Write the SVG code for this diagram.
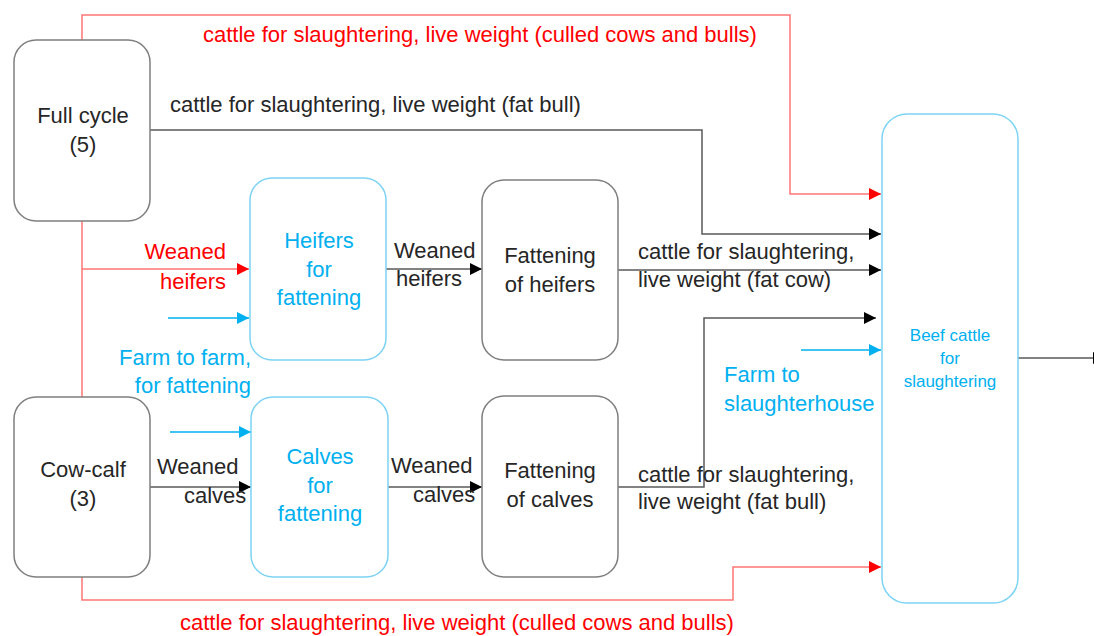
<svg xmlns="http://www.w3.org/2000/svg" width="1094" height="636" viewBox="0 0 1094 636">
  <defs>
    <marker id="arrow-black" markerUnits="userSpaceOnUse" markerWidth="12" markerHeight="12" refX="12" refY="6" orient="auto">
      <path d="M0,0 L12,6 L0,12 z" fill="#000"/>
    </marker>
    <marker id="arrow-red" markerUnits="userSpaceOnUse" markerWidth="12" markerHeight="12" refX="12" refY="6" orient="auto">
      <path d="M0,0 L12,6 L0,12 z" fill="#ff0000"/>
    </marker>
    <marker id="arrow-blue" markerUnits="userSpaceOnUse" markerWidth="12" markerHeight="12" refX="12" refY="6" orient="auto">
      <path d="M0,0 L12,6 L0,12 z" fill="#00b0f0"/>
    </marker>
    <style>
      text { font-family: "Liberation Sans", Arial, sans-serif; font-size: 22px; }
      .box { fill: #fff; stroke: #7f7f7f; stroke-width: 1.5; }
      .box-blue { fill: #fff; stroke: #7dd3f5; stroke-width: 1.5; }
      .t-dark { fill: #262626; }
      .t-red { fill: #ff0000; }
      .t-blue { fill: #00b0f0; }
      .c { text-anchor: middle; }
      .e { text-anchor: end; }
      .small { font-size: 17px; }
      .ln-black { fill: none; stroke: #595959; stroke-width: 1.5; }
      .ln-red { fill: none; stroke: #ff7575; stroke-width: 1.5; }
      .ln-blue { fill: none; stroke: #00b0f0; stroke-width: 1.5; }
    </style>
  </defs>

  <rect width="1094" height="636" fill="#fff"/>

  <!-- connectors -->
  <g id="connectors">
    <!-- culled cows and bulls from the full-cycle farm -->
    <path class="ln-red" d="M82,40 V15 H790 V194 H881" marker-end="url(#arrow-red)"/>
    <path class="ln-red" d="M82,221 V397"/>
    <path class="ln-red" d="M82,269 H249" marker-end="url(#arrow-red)"/>
    <!-- culled cows and bulls from the cow-calf farm -->
    <path class="ln-red" d="M82,577 V600 H733 V567 H881" marker-end="url(#arrow-red)"/>
    <!-- fat bulls from the full-cycle farm -->
    <path class="ln-black" d="M150,130 H702 V234 H881" marker-end="url(#arrow-black)"/>
    <!-- heifer chain -->
    <path class="ln-black" d="M386,269 H482" marker-end="url(#arrow-black)"/>
    <path class="ln-black" d="M618,270 H881" marker-end="url(#arrow-black)"/>
    <!-- calf chain -->
    <path class="ln-black" d="M150,487 H251" marker-end="url(#arrow-black)"/>
    <path class="ln-black" d="M388,487 H482" marker-end="url(#arrow-black)"/>
    <path class="ln-black" d="M618,487 H704 V318 H876" marker-end="url(#arrow-black)"/>
    <!-- purchases from other farms -->
    <path class="ln-blue" d="M168,318 H249" marker-end="url(#arrow-blue)"/>
    <path class="ln-blue" d="M170,432 H251" marker-end="url(#arrow-blue)"/>
    <path class="ln-blue" d="M801,350 H881" marker-end="url(#arrow-blue)"/>
    <!-- output of the slaughter cattle pool -->
    <path class="ln-black" d="M1018,358 H1105" marker-end="url(#arrow-black)"/>
  </g>

  <!-- connector labels -->
  <g id="labels">
    <text class="t-red" x="203" y="42">cattle for slaughtering, live weight (culled cows and bulls)</text>
    <text class="t-dark" x="170" y="112">cattle for slaughtering, live weight (fat bull)</text>
    <text class="t-red e" x="226" y="259">Weaned</text>
    <text class="t-red e" x="226" y="289">heifers</text>
    <text class="t-dark" x="394" y="258">Weaned</text>
    <text class="t-dark" x="396" y="286">heifers</text>
    <text class="t-dark" x="638" y="259">cattle for slaughtering,</text>
    <text class="t-dark" x="638" y="287">live weight (fat cow)</text>
    <text class="t-blue e" x="251" y="365">Farm to farm,</text>
    <text class="t-blue e" x="251" y="393">for fattening</text>
    <text class="t-blue" x="724" y="382">Farm to</text>
    <text class="t-blue" x="724" y="411">slaughterhouse</text>
    <text class="t-dark" x="157" y="474">Weaned</text>
    <text class="t-dark" x="184" y="503">calves</text>
    <text class="t-dark" x="391" y="473">Weaned</text>
    <text class="t-dark" x="413" y="502">calves</text>
    <text class="t-dark" x="638" y="482">cattle for slaughtering,</text>
    <text class="t-dark" x="638" y="509">live weight (fat bull)</text>
    <text class="t-red" x="180" y="630">cattle for slaughtering, live weight (culled cows and bulls)</text>
  </g>

  <!-- nodes -->
  <g id="full-cycle">
    <rect class="box" x="14" y="40" width="136" height="181" rx="22"/>
    <text class="t-dark c" x="83" y="123">Full cycle</text>
    <text class="t-dark c" x="83" y="152">(5)</text>
  </g>
  <g id="cow-calf">
    <rect class="box" x="14" y="397" width="136" height="180" rx="22"/>
    <text class="t-dark c" x="83" y="477">Cow-calf</text>
    <text class="t-dark c" x="83" y="506">(3)</text>
  </g>
  <g id="heifers-for-fattening">
    <rect class="box-blue" x="250" y="178" width="136" height="182" rx="22"/>
    <text class="t-blue c" x="319" y="248">Heifers</text>
    <text class="t-blue c" x="319" y="277">for</text>
    <text class="t-blue c" x="319" y="305">fattening</text>
  </g>
  <g id="calves-for-fattening">
    <rect class="box-blue" x="251" y="397" width="137" height="180" rx="22"/>
    <text class="t-blue c" x="320" y="464">Calves</text>
    <text class="t-blue c" x="320" y="493">for</text>
    <text class="t-blue c" x="320" y="521">fattening</text>
  </g>
  <g id="fattening-of-heifers">
    <rect class="box" x="482" y="180" width="136" height="180" rx="22"/>
    <text class="t-dark c" x="550" y="263">Fattening</text>
    <text class="t-dark c" x="550" y="292">of heifers</text>
  </g>
  <g id="fattening-of-calves">
    <rect class="box" x="482" y="396" width="136" height="181" rx="22"/>
    <text class="t-dark c" x="550" y="478">Fattening</text>
    <text class="t-dark c" x="550" y="507">of calves</text>
  </g>
  <g id="beef-cattle-for-slaughtering">
    <rect class="box-blue" x="882" y="114" width="136" height="489" rx="25"/>
    <text class="t-blue c small" x="950" y="341">Beef cattle</text>
    <text class="t-blue c small" x="950" y="364">for</text>
    <text class="t-blue c small" x="950" y="387">slaughtering</text>
  </g>
</svg>
